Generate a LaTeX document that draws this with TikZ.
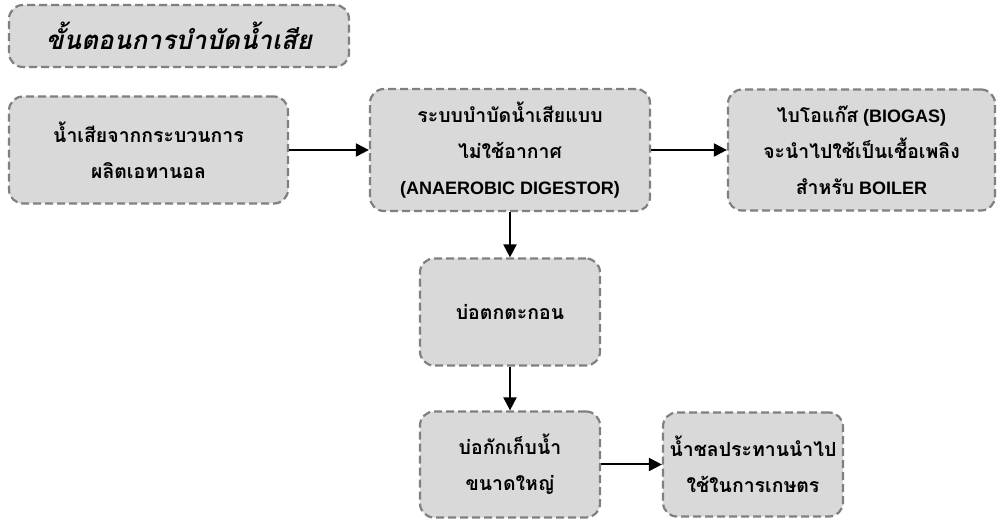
\documentclass[tikz,border=0pt]{standalone}
\usepackage{fontspec}
\setmainfont{Liberation Sans}
\newfontfamily\thai[Script=Thai,Scale=1.08]{Loma}
\usetikzlibrary{positioning, arrows.meta}
\definecolor{boxfill}{HTML}{D9D9D9}
\definecolor{boxline}{HTML}{808080}

\begin{document}
\begin{tikzpicture}[x=1pt,y=-1pt,on grid,auto,
  stage/.style={draw=boxline, fill=boxfill, dash pattern=on 8pt off 4pt, line width=2.2pt,
    rounded corners=14pt, align=center, inner sep=0pt,
    font=\bfseries\fontsize{18}{36}\selectfont},
  flow/.style={-{Triangle[length=13pt,width=13pt]}, line width=2pt}]
  \useasboundingbox (0,0) rectangle (997,521);

  \node[stage, minimum width=340pt, minimum height=62pt,
    font=\bfseries\itshape\fontsize{24}{30}\selectfont] (title) at (179,36) {\thai ขั้นตอนการบำบัดน้ำเสีย};
  \node[stage, minimum width=279pt, minimum height=107pt] (waste) at (148.5,150)
    {\thai น้ำเสียจากกระบวนการ\\\thai ผลิตเอทานอล};
  \node[stage, minimum width=280pt, minimum height=122pt] (digest) [right=361.5pt of waste]
    {\thai ระบบบำบัดน้ำเสียแบบ\\\thai ไม่ใช้อากาศ\\(ANAEROBIC DIGESTOR)};
  \node[stage, minimum width=267pt, minimum height=121pt] (biogas) [right=351.5pt of digest]
    {{\thai ไบโอแก๊ส} (BIOGAS)\\\thai จะนำไปใช้เป็นเชื้อเพลิง\\{\thai สำหรับ} BOILER};
  \node[stage, minimum width=180pt, minimum height=107pt] (settle) [below=162pt of digest]
    {\thai บ่อตกตะกอน};
  \node[stage, minimum width=180pt, minimum height=106pt] (pond) [below=152.5pt of settle]
    {\thai บ่อกักเก็บน้ำ\\\thai ขนาดใหญ่};
  \node[stage, minimum width=180pt, minimum height=104pt] (irrig) [right=243pt of pond]
    {\thai น้ำชลประทานนำไป\\\thai ใช้ในการเกษตร};

  \path[flow]
    (waste) edge (digest)
    (digest) edge (biogas)
             edge (settle)
    (settle) edge (pond)
    (pond) edge (irrig);
\end{tikzpicture}
\end{document}
